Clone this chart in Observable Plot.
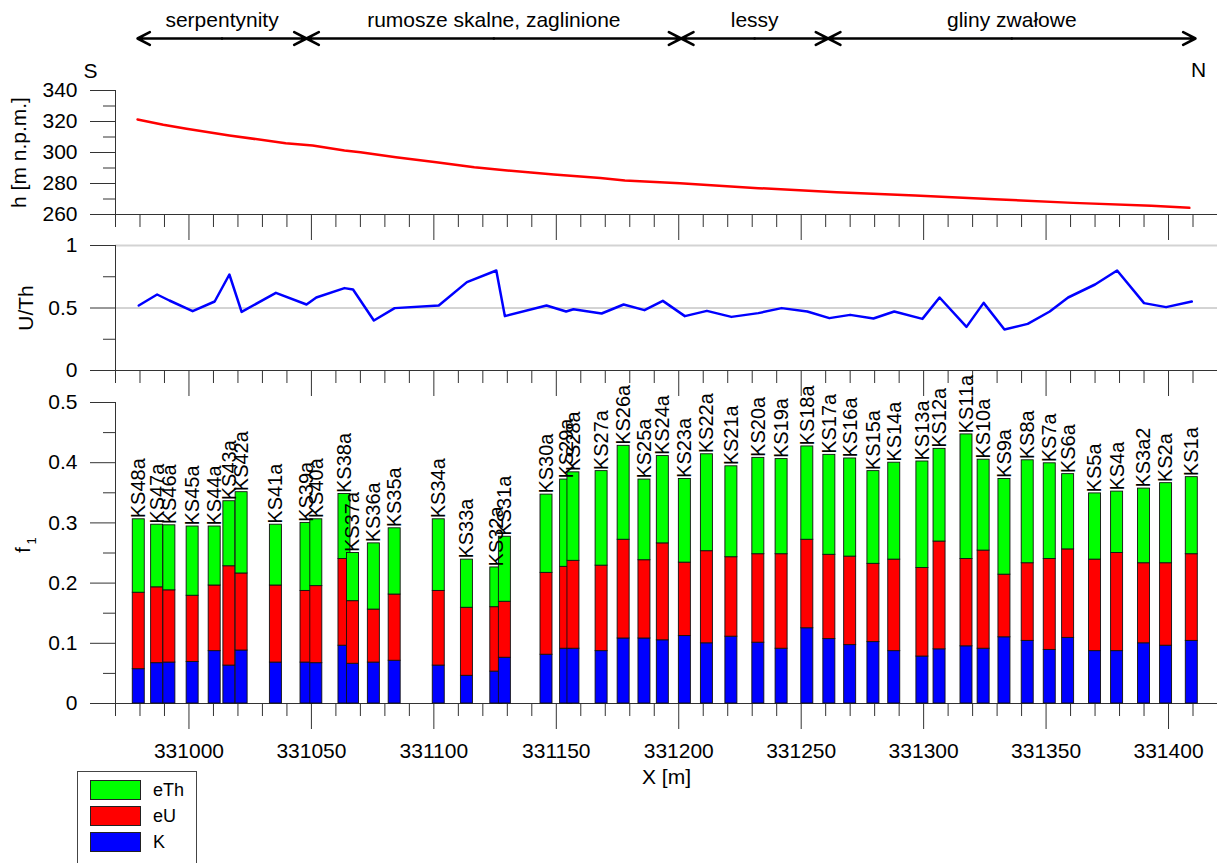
<!DOCTYPE html>
<html><head><meta charset="utf-8">
<script src="https://cdn.jsdelivr.net/npm/d3@7"></script>
<script src="https://cdn.jsdelivr.net/npm/@observablehq/plot@0.6"></script>
<style>
body{margin:0;background:white;}
#chart{position:relative;width:1217px;height:863px;overflow:hidden;background:white;font-family:"Liberation Sans",Arial,sans-serif;}
#chart svg{position:absolute;left:0;top:0;}
</style></head><body><div id="chart"></div>
<script>
// ---- data ----
const samples = ["KS48a","KS47a","KS46a","KS45a","KS44a","KS43a","KS42a","KS41a","KS39a","KS40a","KS38a","KS37a","KS36a","KS35a","KS34a","KS33a","KS32a","KS31a","KS30a","KS29a","KS28a","KS27a","KS26a","KS25a","KS24a","KS23a","KS22a","KS21a","KS20a","KS19a","KS18a","KS17a","KS16a","KS15a","KS14a","KS13a","KS12a","KS11a","KS10a","KS9a","KS8a","KS7a","KS6a","KS5a","KS4a","KS3a2","KS2a","KS1a"];
const sampleX = [330979.5,330987,330992,331001.5,331010.5,331016.5,331021.5,331035.5,331048,331052,331063.5,331067,331075.5,331084,331102,331113.5,331125.5,331129,331146,331154,331157,331168.5,331177.5,331186,331193.5,331202.5,331211.5,331221.5,331232.5,331242,331252.5,331261.5,331270,331279.5,331288,331299.5,331306.5,331317.5,331324.5,331333,331342.5,331351.5,331359,331370,331379,331390,331399,331409.5];
const K   = [0.057,0.067,0.068,0.069,0.087,0.063,0.088,0.068,0.068,0.067,0.096,0.066,0.068,0.071,0.063,0.046,0.053,0.076,0.081,0.091,0.091,0.087,0.108,0.108,0.105,0.112,0.100,0.111,0.101,0.091,0.125,0.107,0.097,0.102,0.087,0.078,0.090,0.095,0.091,0.110,0.104,0.089,0.109,0.087,0.087,0.100,0.096,0.104];
const eU  = [0.127,0.126,0.120,0.110,0.109,0.165,0.128,0.128,0.119,0.128,0.144,0.104,0.088,0.110,0.124,0.113,0.107,0.093,0.136,0.136,0.146,0.142,0.164,0.130,0.161,0.122,0.153,0.132,0.147,0.157,0.147,0.140,0.147,0.130,0.152,0.147,0.179,0.145,0.163,0.104,0.129,0.151,0.147,0.152,0.163,0.133,0.137,0.144];
const eTh = [0.122,0.104,0.108,0.115,0.098,0.108,0.135,0.101,0.113,0.111,0.108,0.080,0.110,0.110,0.119,0.080,0.066,0.108,0.130,0.145,0.147,0.157,0.156,0.134,0.145,0.139,0.161,0.151,0.160,0.158,0.155,0.166,0.163,0.154,0.161,0.177,0.154,0.207,0.151,0.159,0.171,0.159,0.125,0.110,0.102,0.124,0.133,0.128];
const uth = [0.52,0.608,0.56,0.475,0.552,0.768,0.469,0.621,0.528,0.584,0.659,0.648,0.40,0.499,0.52,0.707,0.80,0.435,0.52,0.472,0.49,0.456,0.528,0.483,0.557,0.435,0.477,0.429,0.459,0.499,0.472,0.419,0.445,0.416,0.472,0.413,0.584,0.349,0.541,0.328,0.373,0.472,0.584,0.688,0.80,0.539,0.507,0.552];
const profileX  = [330979,330989.5,330999,331016.5,331039.5,331050.5,331063.5,331070,331084.5,331101,331116.5,331130,331149,331168,331178,331200.5,331232.5,331264.5,331296.5,331329,331361,331393,331408.5];
const elevation = [321.3,317.9,315.3,311.0,306.0,304.5,301.3,300.2,297.0,293.7,290.5,288.4,285.8,283.5,282.0,280.2,277.0,274.4,272.3,269.9,267.5,265.6,264.3];
const unitBounds = [330979,331048,331201,331261,331411];
const unitNames  = ["serpentynity","rumosze skalne, zaglinione","lessy","gliny zwałowe"];
const hTicks = [260,280,300,320,340], hMinor = [270,290,310,330];
const uthTicks = [0,0.5,1], uthMinor = [0.25,0.75];
const fTicks = [0,0.1,0.2,0.3,0.4,0.5], fMinor = [0.05,0.15,0.25,0.35,0.45];
const xTicks = [331000,331050,331100,331150,331200,331250,331300,331350,331400];
const xDomain = [330970,331420];
const legendKeys = ["eTh","eU","K"];
const legendColors = ["#00ff00","#ff0000","#0000ff"];

// ---- layout / style ----
const W = 1217, H = 863, ML = 115;
const FONT = '"Liberation Sans", Arial, sans-serif';
const AX = "#333";
const BAR_HALF = 2.45;
const TICK_FS = 21;
const xMinor = d3.range(xDomain[0], xDomain[1] + 1, 10).filter(v => !xTicks.includes(v));

function overlay(top, bottom, y, marks) {
  return Plot.plot({
    width: W, height: H, marginLeft: ML, marginRight: 0, marginTop: top, marginBottom: H - bottom,
    style: {background: "transparent", overflow: "visible", fontFamily: FONT, fontSize: "20px", color: "black"},
    x: {domain: xDomain, axis: null},
    y: {...y, axis: null},
    color: {domain: legendKeys, range: legendColors},
    marks
  });
}
function xAxisMarks(labels) {
  return [
    Plot.axisX({ticks: xMinor, tickSize: 13, tickFormat: () => "", label: null, stroke: AX}),
    Plot.axisX({ticks: xTicks, tickSize: 26, tickPadding: 14, tickFormat: labels ? (d => String(d)) : (() => ""), label: null, stroke: AX, fill: "black", fontSize: TICK_FS})
  ];
}
function yAxisMarks(major, minor) {
  return [
    Plot.axisY({ticks: minor, tickSize: 12, tickFormat: () => "", label: null, stroke: AX}),
    Plot.axisY({ticks: major, tickSize: 25, tickPadding: 13, tickFormat: d => String(d), label: null, stroke: AX, fill: "black", fontSize: TICK_FS})
  ];
}

const chart = document.getElementById("chart");

// annotation strip
const segs = unitNames.map((n, i) => ({name: n, a: unitBounds[i], b: unitBounds[i + 1], mid: (unitBounds[i] + unitBounds[i + 1]) / 2}));
const arrows = segs.flatMap(s => [{from: s.mid, to: s.a}, {from: s.mid, to: s.b}]);
chart.append(overlay(0, 76, {domain: [-1, 1]}, [
  Plot.arrow(arrows, {x1: "from", x2: "to", y1: 0, y2: 0, stroke: "black", strokeWidth: 2.6, headLength: 8, headAngle: 55}),
  Plot.text(segs, {x: "mid", y: 0, text: "name", dy: -18, fontSize: 21, fill: "black"}),
  Plot.text(["S"], {frameAnchor: "bottom-left", textAnchor: "middle", lineAnchor: "middle", dx: -25, dy: -5, fontSize: 21}),
  Plot.text(["N"], {x: [unitBounds[unitBounds.length - 1]], frameAnchor: "bottom", textAnchor: "middle", lineAnchor: "middle", dx: 3, dy: -6, fontSize: 21})
]));

// elevation panel
const profile = profileX.map((x, i) => ({x, h: elevation[i]}));
chart.append(overlay(90, 214, {domain: [hTicks[0], hTicks[hTicks.length - 1]]}, [
  ...xAxisMarks(false),
  ...yAxisMarks(hTicks, hMinor),
  Plot.ruleY([hTicks[0]], {stroke: AX}),
  Plot.ruleX([xDomain[0]], {stroke: AX}),
  Plot.line(profile, {x: "x", y: "h", stroke: "#ff0000", strokeWidth: 2.5}),
  Plot.text(["h [m n.p.m.]"], {frameAnchor: "left", rotate: -90, textAnchor: "middle", lineAnchor: "middle", dx: -96, fontSize: 21})
]));

// U/Th panel
const pts = samples.map((s, i) => ({x: sampleX[i], r: uth[i]}));
chart.append(overlay(245, 370, {domain: [uthTicks[0], uthTicks[uthTicks.length - 1]]}, [
  Plot.ruleY([uthTicks[2]], {stroke: "#d3d3d3", strokeWidth: 2}),
  Plot.ruleY([uthTicks[1]], {stroke: "#a8a8a8", strokeWidth: 1}),
  ...xAxisMarks(false),
  ...yAxisMarks(uthTicks, uthMinor),
  Plot.ruleY([uthTicks[0]], {stroke: AX}),
  Plot.ruleX([xDomain[0]], {stroke: AX}),
  Plot.line(pts, {x: "x", y: "r", stroke: "#0000ff", strokeWidth: 2.5}),
  Plot.text(["U/Th"], {frameAnchor: "left", rotate: -90, textAnchor: "middle", lineAnchor: "middle", dx: -89, fontSize: 21})
]));

// f1 stacked bars panel
const rows = [];
samples.forEach((s, i) => {
  let base = 0;
  [["K", K[i]], ["eU", eU[i]], ["eTh", eTh[i]]].forEach(([c, v]) => {
    rows.push({x1: sampleX[i] - BAR_HALF, x2: sampleX[i] + BAR_HALF, y1: base, y2: base + v, comp: c});
    base += v;
  });
});
const tops = samples.map((s, i) => ({name: s, x: sampleX[i], t: K[i] + eU[i] + eTh[i]}));
chart.append(overlay(402, 703, {domain: [fTicks[0], fTicks[fTicks.length - 1]]}, [
  ...xAxisMarks(true),
  ...yAxisMarks(fTicks, fMinor),
  Plot.ruleY([fTicks[0]], {stroke: AX}),
  Plot.ruleX([xDomain[0]], {stroke: AX}),
  Plot.rect(rows, {x1: "x1", x2: "x2", y1: "y1", y2: "y2", fill: "comp", stroke: "#111", strokeWidth: 0.9}),
  Plot.text(tops, {x: "x", y: "t", text: "name", rotate: -90, textAnchor: "start", lineAnchor: "middle", dy: -1, fontSize: 20, fontFamily: '"Liberation Sans Narrow", "Liberation Sans", Arial, sans-serif', fill: "black"}),
  Plot.text(["f"], {frameAnchor: "left", rotate: -90, textAnchor: "middle", lineAnchor: "middle", dx: -92, dy: -3, fontSize: 20}),
  Plot.text(["1"], {frameAnchor: "left", rotate: -90, textAnchor: "middle", lineAnchor: "middle", dx: -84, dy: -12, fontSize: 13}),
  Plot.text(["X [m]"], {frameAnchor: "bottom", textAnchor: "middle", lineAnchor: "middle", dy: 74, fontSize: 21})
]));

// legend
const leg = document.createElement("div");
Object.assign(leg.style, {position: "absolute", left: "77px", top: "771px", width: "118px", height: "100px", border: "1px solid #444", background: "white", fontFamily: FONT, fontSize: "18px"});
legendKeys.forEach((k, i) => {
  const sw = document.createElement("div");
  Object.assign(sw.style, {position: "absolute", left: "12px", top: (8 + i * 26) + "px", width: "49px", height: "18px", background: legendColors[i], border: "1px solid #222"});
  const lb = document.createElement("div");
  lb.textContent = k;
  Object.assign(lb.style, {position: "absolute", left: "75px", top: (8 + i * 26) + "px", height: "20px", lineHeight: "20px", color: "black"});
  leg.append(sw, lb);
});
chart.append(leg);
</script>
</body></html>
